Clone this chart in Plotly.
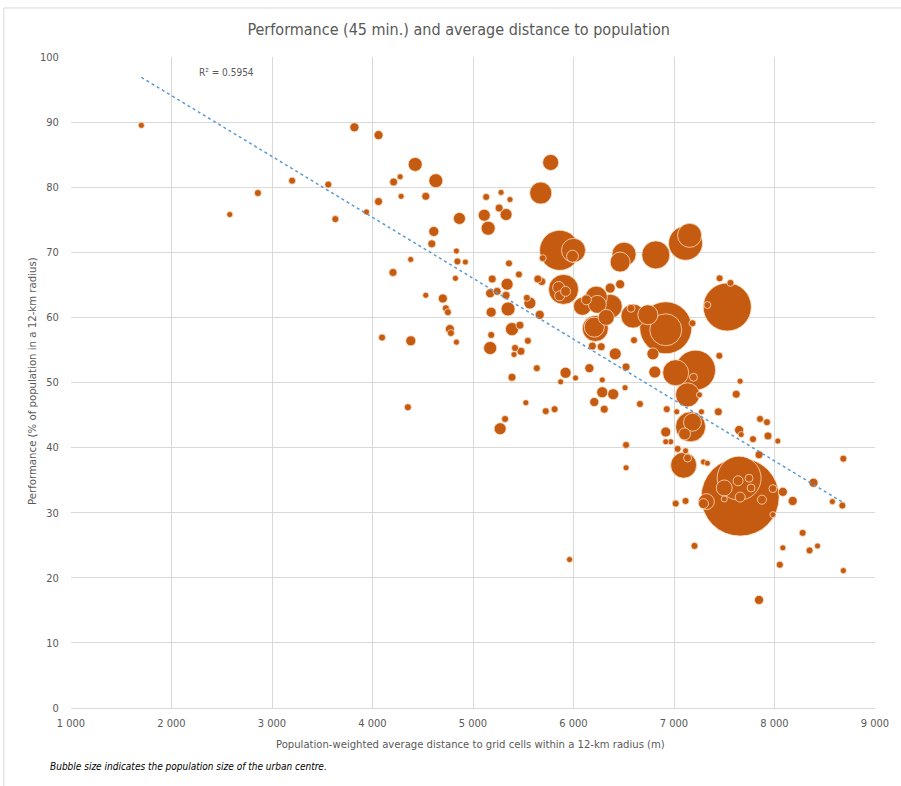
import numpy as np
import plotly.graph_objects as go

# ---- data ----
distance_m = [
    1700, 2580, 2860, 3200, 3560, 3630, 3820, 3940, 4060, 4060,
    4204, 4210, 4275, 4285, 4425, 4530, 4630, 4865, 4610, 4590,
    4380, 4835, 4845, 4924, 4825, 4530, 4700, 4730, 4750, 4770,
    4780, 4835, 4095, 4381, 4352,
    5131, 5279, 5368, 5260, 5112, 5329, 5151, 5191, 5358, 5457,
    5339, 5240, 5171, 5329, 5536, 5181, 5349, 5566, 5664, 5388,
    5467, 5181, 5171, 5418, 5408, 5477, 5546, 5635, 5388, 5526,
    5319, 5270, 5724, 5812, 5961,
    5773, 5674, 5862, 6000, 5990, 5694, 6503, 6464, 6819, 7115,
    7155, 5645, 5684, 5901, 5852, 5862, 5921, 6227, 6365, 6464,
    6089, 6237, 6365, 6326, 6128, 6217, 6207, 6188, 6276, 6592,
    6572, 6740, 6918, 6918, 7184, 6602, 6415, 6790, 6523, 6158,
    5921, 5872, 6020, 6286, 6513, 6286, 6395, 6207, 6306, 6661,
    6523, 6523,
    6809, 7214, 7017, 7194, 7135, 7253, 7451, 7658, 7619, 6928,
    7027, 7273, 7441, 7165, 7184, 7105, 6918, 6918, 6967, 7036,
    7115, 7096, 7135, 7293, 7332, 7856, 7925, 7648, 7668, 7786,
    7935, 8033, 7846, 7530, 7332, 7454, 7562,
    7658, 7648, 7500, 7638, 7747, 7767, 7658, 7875, 7984, 7984,
    7500, 7322, 7293, 7017, 7115,
    8388, 8083, 8181, 8576, 8675, 8685, 7204, 8280, 8428, 8349,
    8083, 8053, 8685, 7846,
]
performance_pct = [
    89.5, 75.8, 79.1, 81.0, 80.4, 75.1, 89.2, 76.2, 88.0, 77.8,
    66.9, 80.8, 81.6, 78.6, 83.5, 78.6, 81.0, 75.2, 73.2, 71.3,
    68.9, 70.2, 68.6, 68.5, 66.0, 63.4, 62.9, 61.4, 60.8, 58.2,
    57.6, 56.2, 56.9, 56.4, 46.2,
    78.5, 79.2, 78.1, 76.8, 75.7, 75.8, 73.7, 65.9, 68.3, 66.6,
    65.1, 64.0, 63.7, 63.4, 63.0, 60.8, 61.3, 62.2, 60.4, 58.2,
    58.8, 57.3, 55.3, 55.3, 54.3, 54.8, 56.4, 52.2, 50.8, 46.9,
    44.4, 42.9, 45.6, 45.9, 22.8,
    83.8, 79.1, 70.3, 70.3, 69.4, 69.1, 69.7, 68.5, 69.6, 71.4,
    72.6, 65.9, 65.5, 64.3, 64.6, 63.3, 64.0, 63.1, 64.5, 65.1,
    61.7, 62.0, 61.7, 60.0, 62.7, 58.3, 58.5, 55.6, 55.5, 60.2,
    61.4, 60.4, 58.4, 58.1, 59.1, 56.5, 54.4, 54.4, 52.4, 52.2,
    51.5, 50.1, 50.7, 50.4, 49.2, 48.5, 48.2, 47.0, 45.9, 46.7,
    40.4, 36.9,
    51.6, 51.9, 51.5, 50.8, 48.1, 48.1, 54.1, 50.2, 48.2, 45.9,
    45.5, 45.5, 45.5, 43.2, 43.9, 42.1, 42.4, 40.9, 40.9, 39.8,
    39.5, 37.3, 38.4, 37.8, 37.6, 44.4, 43.9, 42.7, 42.0, 41.3,
    41.8, 41.0, 38.9, 61.6, 61.9, 66.0, 65.3,
    32.4, 35.3, 33.8, 34.9, 35.3, 33.8, 32.4, 32.0, 33.7, 29.7,
    32.1, 31.7, 31.4, 31.4, 31.8,
    34.6, 33.2, 31.8, 31.7, 31.1, 38.3, 24.9, 26.9, 24.9, 24.2,
    24.6, 22.0, 21.1, 16.6,
]
population_k = [
    60, 60, 80, 80, 80, 80, 135, 60, 135, 105,
    105, 105, 60, 60, 320, 105, 320, 235, 165, 105,
    60, 60, 80, 60, 60, 60, 135, 80, 80, 135,
    80, 60, 80, 165, 80,
    80, 60, 60, 105, 235, 235, 320, 105, 80, 80,
    235, 105, 135, 105, 80, 165, 320, 235, 135, 280,
    105, 80, 280, 80, 60, 105, 80, 80, 105, 60,
    80, 235, 80, 80, 60,
    420, 800, 2630, 950, 235, 80, 950, 660, 1290, 1900,
    950, 105, 105, 1480, 235, 165, 165, 800, 165, 135,
    530, 530, 950, 420, 165, 1110, 660, 105, 105, 950,
    105, 660, 4440, 1680, 80, 80, 235, 235, 105, 135,
    200, 60, 60, 60, 60, 200, 200, 135, 105, 80,
    80, 60,
    235, 2630, 1110, 105, 950, 60, 80, 60, 105, 80,
    60, 60, 105, 1480, 530, 235, 165, 60, 60, 80,
    60, 1110, 105, 60, 60, 80, 80, 135, 60, 80,
    105, 60, 105, 3790, 80, 80, 80,
    10000, 3180, 420, 165, 105, 105, 165, 135, 105, 60,
    60, 420, 165, 80, 80,
    135, 135, 135, 60, 80, 80, 80, 80, 60, 80,
    60, 80, 60, 135,
]
r_squared_label = "R\u00b2 = 0.5954"
x_tick_values = [1000, 2000, 3000, 4000, 5000, 6000, 7000, 8000, 9000]
x_tick_labels = ["1 000", "2 000", "3 000", "4 000", "5 000", "6 000", "7 000", "8 000", "9 000"]
y_tick_values = [0, 10, 20, 30, 40, 50, 60, 70, 80, 90, 100]

title_text = "Performance (45 min.) and average distance to population"
x_title = "Population-weighted average distance to grid cells within a 12-km radius (m)"
y_title = "Performance (% of population in a 12-km radius)"
note_text = "Bubble size indicates the population size of the urban centre."

# ---- figure ----
x = np.array(distance_m, dtype=float)
y = np.array(performance_pct, dtype=float)
pop = np.array(population_k, dtype=float)
order = np.argsort(-pop)  # big bubbles first, small ones on top

MAX_DIAM = 78
diam = MAX_DIAM * np.sqrt(pop / pop.max())

FONT = "DejaVu Sans Condensed, Roboto, sans-serif"
GREY = "#595959"

fig = go.Figure()
fig.add_trace(go.Scatter(
    x=x[order], y=y[order], mode="markers",
    marker=dict(size=diam[order], sizemode="diameter", color="#C55A11",
                opacity=1, line=dict(color="rgba(255,228,200,0.95)", width=0.8)),
    hoverinfo="x+y", showlegend=False,
))

# linear trend line (least squares over the points)
slope, intercept = np.polyfit(x, y, 1)
xt = np.array([x.min(), x.max()])
fig.add_trace(go.Scatter(
    x=xt, y=intercept + slope * xt, mode="lines",
    line=dict(color="#5B9BD5", width=1.5, dash="dot"),
    hoverinfo="skip", showlegend=False,
))

fig.update_layout(
    width=901, height=786,
    margin=dict(l=71, r=18, t=57, b=78),
    paper_bgcolor="white", plot_bgcolor="white",
    font=dict(family=FONT, color=GREY, size=11),
    title=dict(text=title_text, x=0.509, xanchor="center", y=0.962, yanchor="middle",
               font=dict(family=FONT, size=16, color=GREY)),
    xaxis=dict(range=[1000, 9000], tickvals=x_tick_values, ticktext=x_tick_labels,
               showgrid=True, gridcolor="#D9D9D9", gridwidth=1, zeroline=False,
               showline=True, linecolor="#D9D9D9", linewidth=1,
               ticks="outside", ticklen=5, tickcolor="rgba(0,0,0,0)",
               tickfont=dict(family=FONT, size=11, color=GREY), fixedrange=True),
    yaxis=dict(range=[0, 100], tickvals=y_tick_values,
               showgrid=True, gridcolor="#D9D9D9", gridwidth=1, zeroline=False,
               showline=False, ticks="outside", ticklen=9, tickcolor="rgba(0,0,0,0)",
               tickfont=dict(family=FONT, size=11, color=GREY), fixedrange=True),
    annotations=[
        dict(text=r_squared_label, x=2550, y=97.6, xref="x", yref="y", showarrow=False,
             font=dict(family=FONT, size=10, color=GREY)),
        dict(text=x_title, x=0.497, xref="paper", y=-0.056, yref="paper", showarrow=False,
             xanchor="center", yanchor="middle", font=dict(family=FONT, size=11.2, color=GREY)),
        dict(text=y_title, x=-0.048, xref="paper", y=0.503, yref="paper", showarrow=False,
             textangle=-90, xanchor="center", yanchor="middle",
             font=dict(family=FONT, size=11.3, color=GREY)),
        dict(text="<i>" + note_text + "</i>", x=-0.0283, xref="paper", y=-0.0906, yref="paper",
             showarrow=False, xanchor="left", yanchor="middle",
             font=dict(family=FONT, size=10, color="#000000")),
    ],
    shapes=[
        dict(type="path", xref="paper", yref="paper",
             path="M -0.0835,-0.2 L -0.0835,1.0753 L 1.1,1.0753",
             line=dict(color="#D9D9D9", width=1)),
    ],
)

fig.write_html("out.html", config={"displayModeBar": False},
               post_script="document.body.style.margin='0px';document.body.style.overflow='hidden';")
